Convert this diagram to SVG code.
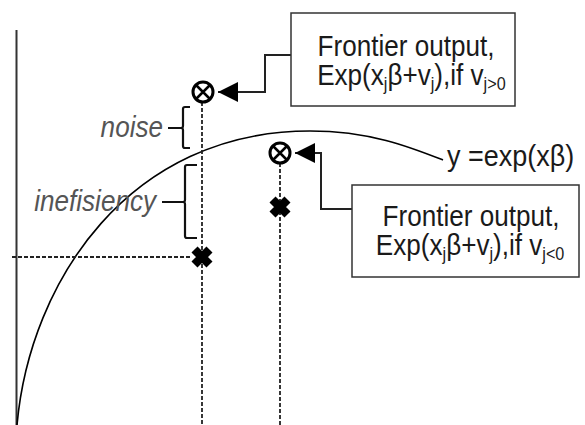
<svg xmlns="http://www.w3.org/2000/svg" width="585" height="425" viewBox="0 0 585 425">
<style>
.t{font-family:"Liberation Sans",Arial,sans-serif;font-size:29px;fill:#1a1a1a}
.lbl{font-family:"Liberation Sans",Arial,sans-serif;font-size:29px;font-style:italic;fill:#555}
.box{fill:#fff;stroke:#333;stroke-width:1.5}
.ln{fill:none;stroke:#222;stroke-width:2}
.dash{fill:none;stroke:#222;stroke-width:1.8;stroke-dasharray:4 2}
.brace{fill:none;stroke:#111;stroke-width:2.2}
.sub{font-size:18px}
</style>
<defs>
<marker id="arr" viewBox="0 0 20 20" refX="20" refY="10" markerWidth="20" markerHeight="20" markerUnits="userSpaceOnUse" orient="auto">
<path d="M0,0 L20,10 L0,20 Z" fill="#000"/>
</marker>
<g id="otimes">
<circle r="10" fill="#fff" stroke="#000" stroke-width="3"/>
<path d="M-6.5,-6.5 L6.5,6.5 M6.5,-6.5 L-6.5,6.5" stroke="#000" stroke-width="2.5"/>
</g>
<g id="xmark">
<path d="M-7.5,-7.5 L7.5,7.5 M7.5,-7.5 L-7.5,7.5" stroke="#000" stroke-width="8.5"/>
</g>
</defs>
<g id="axis">
<line x1="16.5" y1="30" x2="16.5" y2="425" stroke="#333" stroke-width="2"/>
</g>
<g id="curve">
<path d="M17,425 C30,280 130,131 310,131 C370,131 410,147 443,160" fill="none" stroke="#000" stroke-width="1.6"/>
</g>
<g id="connectors">
<line class="dash" x1="202" y1="102" x2="202" y2="425"/>
<line class="dash" x1="280" y1="163" x2="280" y2="425"/>
<line class="dash" x1="12" y1="257" x2="192" y2="257"/>
<path class="ln" d="M291,55 H265 V92 H218" marker-end="url(#arr)"/>
<path class="ln" d="M352,209 H321 V153 H295" marker-end="url(#arr)"/>
</g>
<g id="marker-frontier-pos"><use href="#otimes" x="203" y="92"/></g>
<g id="marker-frontier-neg"><use href="#otimes" x="280" y="153"/></g>
<g id="obs1"><use href="#xmark" x="202" y="257"/></g>
<g id="obs2"><use href="#xmark" x="280" y="207"/></g>
<g id="noise">
<path class="brace" d="M190,107 H185 Q183,107 183,109 V126 Q183,128 181,128 H168 M181,128 Q183,128 183,130 V146 Q183,148 185,148 H190"/>
<g transform="translate(163,0) scale(0.9,1)"><text class="lbl" x="0" y="137" text-anchor="end">noise</text></g>
</g>
<g id="inefficiency">
<path class="brace" d="M197,165 H187 Q185,165 185,167 V200 Q185,202 183,202 H162 M183,202 Q185,202 185,204 V236 Q185,238 187,238 H197"/>
<g transform="translate(156,0) scale(0.9,1)"><text class="lbl" x="0" y="211" text-anchor="end">inefisiency</text></g>
</g>
<g id="box-pos">
<rect class="box" x="291" y="13" width="224" height="93"/>
<g transform="translate(406,0) scale(0.9,1)">
<text class="t" x="0" y="56" text-anchor="middle">Frontier output,</text>
<text class="t" x="6" y="85" text-anchor="middle">Exp(x<tspan class="sub" dy="5">j</tspan><tspan dy="-5">β+v</tspan><tspan class="sub" dy="5">j</tspan><tspan dy="-5">),if v</tspan><tspan class="sub" dy="5">j&gt;0</tspan></text>
</g>
</g>
<g id="box-neg">
<rect class="box" x="352" y="185" width="227" height="92"/>
<g transform="translate(471,0) scale(0.9,1)">
<text class="t" x="0" y="226" text-anchor="middle">Frontier output,</text>
<text class="t" x="-1" y="255" text-anchor="middle">Exp(x<tspan class="sub" dy="5">j</tspan><tspan dy="-5">β+v</tspan><tspan class="sub" dy="5">j</tspan><tspan dy="-5">),if v</tspan><tspan class="sub" dy="5">j&lt;0</tspan></text>
</g>
</g>
<g id="curve-label">
<g transform="translate(447,0) scale(0.93,1)"><text class="t" x="0" y="166">y =exp(xβ)</text></g>
</g>
</svg>
